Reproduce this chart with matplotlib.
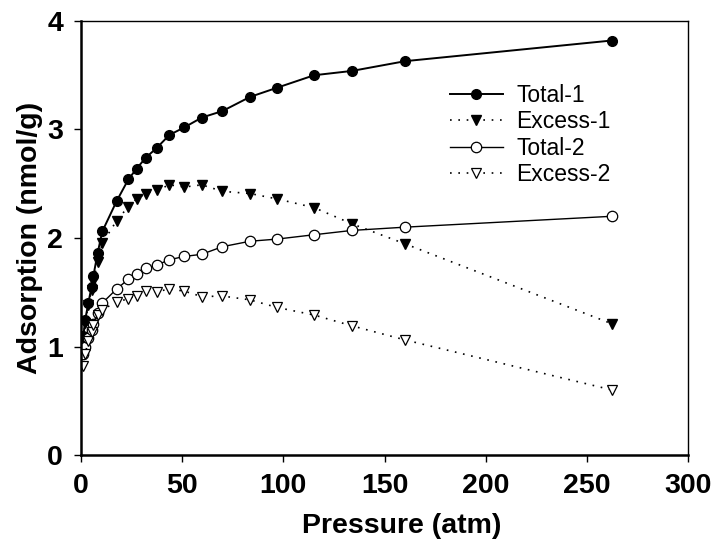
import matplotlib
matplotlib.use("Agg")
import matplotlib.pyplot as plt

# Pressure points (atm) shared by all isotherms
pressure = [1.2, 2.0, 3.6, 5.2, 6.1, 8.2, 10.5, 17.6, 23.4, 27.5, 32.0, 37.4,
            43.7, 51.1, 59.7, 69.9, 83.5, 96.9, 115.2, 134.0, 160.3, 262.3]

total_1 = [1.10, 1.24, 1.40, 1.55, 1.65, 1.86, 2.06, 2.34, 2.54, 2.64, 2.74, 2.83,
           2.95, 3.02, 3.11, 3.17, 3.30, 3.385, 3.50, 3.54, 3.63, 3.82]
excess_1 = [1.08, 1.22, 1.38, 1.52, 1.60, 1.78, 1.95, 2.16, 2.29, 2.36, 2.41, 2.44,
            2.49, 2.47, 2.49, 2.43, 2.41, 2.36, 2.28, 2.13, 1.945, 1.21]
total_2 = [0.93, 1.00, 1.08, 1.15, 1.21, 1.31, 1.40, 1.53, 1.62, 1.67, 1.72, 1.75,
           1.80, 1.83, 1.85, 1.92, 1.97, 1.99, 2.03, 2.07, 2.10, 2.20]
excess_2 = [0.82, 0.93, 1.05, 1.13, 1.20, 1.29, 1.34, 1.41, 1.44, 1.47, 1.51, 1.505,
            1.53, 1.51, 1.46, 1.465, 1.43, 1.36, 1.29, 1.19, 1.06, 0.60]

x_ticks = [0, 50, 100, 150, 200, 250, 300]
y_ticks = [0, 1, 2, 3, 4]

plt.rcParams['font.family'] = ['Liberation Sans', 'DejaVu Sans']

fig = plt.figure(figsize=(7.12, 5.48), dpi=100)
ax = fig.add_axes([0.1138, 0.1697, 0.8525, 0.792])

dots = (0, (1, 4))
ax.plot(pressure, total_1, color='black', lw=1.4, ls='-', marker='o', ms=7,
        mfc='black', mec='black', label='Total-1')
ax.plot(pressure, excess_1, color='black', lw=1.2, ls=dots, marker='v', ms=7,
        mfc='black', mec='black', label='Excess-1')
ax.plot(pressure, total_2, color='black', lw=1.0, ls='-', marker='o', ms=7.5,
        mfc='white', mec='black', mew=0.9, label='Total-2')
ax.plot(pressure, excess_2, color='black', lw=1.2, ls=dots, marker='v', ms=7,
        mfc='white', mec='black', mew=0.9, label='Excess-2')

ax.set_xlim(0, 300)
ax.set_ylim(0, 4)
ax.set_xticks(x_ticks)
ax.set_yticks(y_ticks)
ax.tick_params(direction='out', length=5, width=1, labelsize=20.5)
ax.tick_params(axis='x', pad=8)
ax.tick_params(axis='y', pad=8)
for lab in ax.get_xticklabels() + ax.get_yticklabels():
    lab.set_fontweight('bold')

for side in ['bottom', 'left']:
    ax.spines[side].set_linewidth(1.8)
for side in ['top', 'right']:
    ax.spines[side].set_linewidth(1.0)

ax.set_xlabel('Pressure (atm)', fontsize=20.5, fontweight='bold')
ax.set_ylabel('Adsorption (nmol/g)', fontsize=20.5, fontweight='bold', labelpad=3)
ax.xaxis.set_label_coords(0.528, -0.134)

ax.legend(loc='upper left', bbox_to_anchor=(0.593, 0.876), frameon=False,
          fontsize=16.5, handlelength=2.3, handletextpad=0.6, labelspacing=0.15,
          borderpad=0.4, borderaxespad=0)

fig.savefig('out.png', dpi=100)
